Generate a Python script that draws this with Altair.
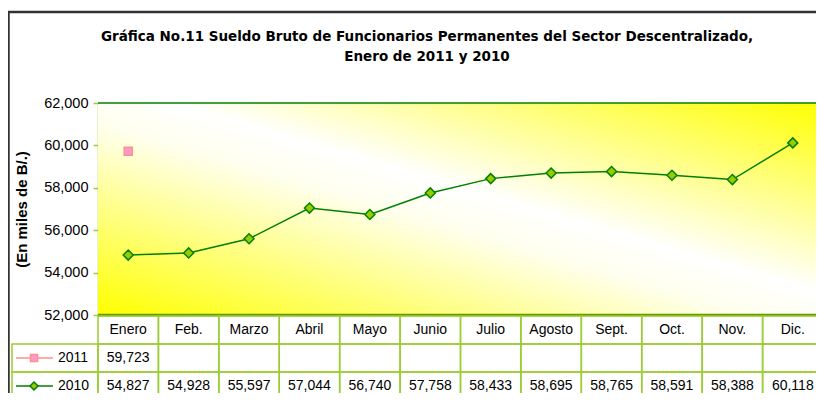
import altair as alt
import pandas as pd

# ---------------- data ----------------
months = ["Enero", "Feb.", "Marzo", "Abril", "Mayo", "Junio", "Julio",
          "Agosto", "Sept.", "Oct.", "Nov.", "Dic."]
values_2011 = [59723]
values_2010 = [54827, 54928, 55597, 57044, 56740, 57758, 58433, 58695,
               58765, 58591, 58388, 60118]
y_ticks = [52000, 54000, 56000, 58000, 60000, 62000]
series_names = ["2011", "2010"]
title_lines = ["Gráfica No.11 Sueldo Bruto de Funcionarios Permanentes del Sector Descentralizado,",
               "Enero de 2011 y 2010"]
y_title = "(En miles de B/.)"

FONT = "Liberation Sans"
TITLE_FONT = "DejaVu Sans"
GREEN_DARK = "#008000"
GREEN_LIGHT = "#9acd32"
GREEN_AXIS = "#669900"
PINK_FILL = "#ff99cc"
PINK_LINE = "#ff8f8f"

n = len(months)
idx = list(range(n))

df2010 = pd.DataFrame({"i": idx, "value": values_2010})
df2011 = pd.DataFrame({"i": list(range(len(values_2011))), "value": values_2011})
frame = pd.DataFrame({"x0": [-0.5], "x1": [n - 0.5],
                      "y0": [y_ticks[0]], "y1": [y_ticks[-1]]})

xscale = alt.Scale(domain=[-0.5, n - 0.5], range=[0, 725], nice=False, zero=False)
yscale = alt.Scale(domain=[y_ticks[0], y_ticks[-1]], nice=False, zero=False)

gradient = alt.Gradient(
    gradient="linear", x1=0, y1=1, x2=1, y2=0,
    stops=[alt.GradientStop(color="#ffff00", offset=0),
           alt.GradientStop(color="#ffffee", offset=0.45),
           alt.GradientStop(color="#ffffff", offset=0.55),
           alt.GradientStop(color="#ffff00", offset=1)])

bg = alt.Chart(frame).mark_rect(fill=gradient).encode(
    x=alt.X("x0:Q", scale=xscale, axis=None),
    x2="x1:Q",
    y=alt.Y("y0:Q", scale=yscale,
            axis=alt.Axis(values=y_ticks, format=",.0f", grid=False,
                          labelFont=FONT, labelFontSize=14.5, labelColor="#000",
                          labelPadding=5, tickColor=GREEN_LIGHT, tickSize=5,
                          tickWidth=1.5, domainColor=GREEN_LIGHT, domainWidth=1.5,
                          title=y_title, titleFont=FONT, titleFontSize=15,
                          titleFontWeight="bold", titleColor="#000",
                          titleX=-77, titleY=106, titleAngle=270,
                          titleBaseline="middle", titleAlign="center")),
    y2="y1:Q",
)

top_rule = alt.Chart(frame).mark_rule(color=GREEN_DARK, strokeWidth=1.5).encode(
    x=alt.X("x0:Q", scale=xscale), x2="x1:Q",
    y=alt.Y("y1:Q", scale=yscale))
bottom_rule = alt.Chart(frame).mark_rule(color=GREEN_AXIS, strokeWidth=2.5).encode(
    x=alt.X("x0:Q", scale=xscale), x2="x1:Q",
    y=alt.Y("y0:Q", scale=yscale))

line = alt.Chart(df2010).mark_line(color=GREEN_DARK, strokeWidth=1.5).encode(
    x=alt.X("i:Q", scale=xscale), y=alt.Y("value:Q", scale=yscale))
pts = alt.Chart(df2010).mark_point(shape="diamond", filled=True, fill="#99cc00",
                                   stroke=GREEN_DARK, strokeWidth=1.5,
                                   size=100, opacity=1).encode(
    x=alt.X("i:Q", scale=xscale), y=alt.Y("value:Q", scale=yscale))
sq = alt.Chart(df2011).mark_point(shape="square", filled=True, fill=PINK_FILL,
                                  stroke=PINK_LINE, strokeWidth=1.5,
                                  size=64, opacity=1).encode(
    x=alt.X("i:Q", scale=xscale), y=alt.Y("value:Q", scale=yscale))

title1 = alt.Chart(pd.DataFrame({"t": [title_lines[0]]})).mark_text(
    font=TITLE_FONT, fontSize=13.5, fontWeight="bold", color="#000",
    align="center", baseline="middle").encode(
    x=alt.value(329), y=alt.value(-66), text="t:N")
title2 = alt.Chart(pd.DataFrame({"t": [title_lines[1]]})).mark_text(
    font=TITLE_FONT, fontSize=13.5, fontWeight="bold", color="#000",
    align="center", baseline="middle").encode(
    x=alt.value(329), y=alt.value(-46), text="t:N")

border = alt.Chart(frame).mark_rect(fill=None, stroke="#333333", strokeWidth=2.5).encode(
    x=alt.value(-89.5), x2=alt.value(900), y=alt.value(-91), y2=alt.value(500))

plot_layer = alt.layer(bg, top_rule, bottom_rule, line, pts, sq, title1, title2, border)

# ---------------- data table ----------------
cells = []
for r in range(3):
    for i in idx:
        cells.append({"x0": i - 0.5, "x1": i + 0.5, "r0": r, "r1": r + 1})
cells = pd.DataFrame(cells)
tscale = alt.Scale(domain=[0, 3], range=[213, 297], nice=False, zero=False)

cell_rects = alt.Chart(cells).mark_rect(fill=None, stroke=GREEN_LIGHT, strokeWidth=1.5).encode(
    x=alt.X("x0:Q", scale=xscale), x2="x1:Q",
    y=alt.Y("r0:Q", scale=tscale, axis=None), y2="r1:Q")

leg_cells = alt.Chart(pd.DataFrame({"r0": [1, 2], "r1": [2, 3]})).mark_rect(
    fill=None, stroke=GREEN_LIGHT, strokeWidth=1.5).encode(
    x=alt.value(-86), x2=alt.value(0),
    y=alt.Y("r0:Q", scale=tscale, axis=None), y2="r1:Q")

hdr = alt.Chart(pd.DataFrame({"i": idx, "m": months, "r": [0.5] * n})).mark_text(
    font=FONT, fontSize=14, color="#000", align="center", baseline="middle").encode(
    x=alt.X("i:Q", scale=xscale), y=alt.Y("r:Q", scale=tscale, axis=None), text="m:N")

vals = pd.concat([df2011.assign(r=1.5), df2010.assign(r=2.5)])
val_text = alt.Chart(vals).mark_text(
    font=FONT, fontSize=14, color="#000", align="center", baseline="middle").encode(
    x=alt.X("i:Q", scale=xscale), y=alt.Y("r:Q", scale=tscale, axis=None),
    text=alt.Text("value:Q", format=",.0f"))

leg_df = pd.DataFrame({"name": series_names, "r": [1.5, 2.5]})
leg_line_11 = alt.Chart(leg_df.iloc[[0]]).mark_rule(color=PINK_LINE, strokeWidth=1.5).encode(
    x=alt.value(-82), x2=alt.value(-45), y=alt.Y("r:Q", scale=tscale, axis=None))
leg_line_10 = alt.Chart(leg_df.iloc[[1]]).mark_rule(color=GREEN_DARK, strokeWidth=1.5).encode(
    x=alt.value(-82), x2=alt.value(-45), y=alt.Y("r:Q", scale=tscale, axis=None))
leg_sq = alt.Chart(leg_df.iloc[[0]]).mark_point(shape="square", filled=True, fill=PINK_FILL,
                                               stroke=PINK_LINE, strokeWidth=1.5,
                                               size=49, opacity=1).encode(
    x=alt.value(-64), y=alt.Y("r:Q", scale=tscale, axis=None))
leg_dm = alt.Chart(leg_df.iloc[[1]]).mark_point(shape="diamond", filled=True, fill="#99cc00",
                                               stroke=GREEN_DARK, strokeWidth=1.5,
                                               size=64, opacity=1).encode(
    x=alt.value(-64), y=alt.Y("r:Q", scale=tscale, axis=None))
leg_txt = alt.Chart(leg_df).mark_text(font=FONT, fontSize=14, color="#000",
                                      align="left", baseline="middle").encode(
    x=alt.value(-40), y=alt.Y("r:Q", scale=tscale, axis=None), text="name:N")

table_layer = alt.layer(cell_rects, leg_cells, hdr, val_text,
                        leg_line_11, leg_line_10, leg_sq, leg_dm, leg_txt)

chart = alt.layer(plot_layer, table_layer).resolve_scale(y="independent").properties(
    width=718, height=212,
    padding={"left": 90, "top": 95, "right": 0, "bottom": 78},
    autosize="none",
    background="white",
).configure_view(stroke=None)

chart.save("out.html", embed_options={"renderer": "svg", "actions": False})
